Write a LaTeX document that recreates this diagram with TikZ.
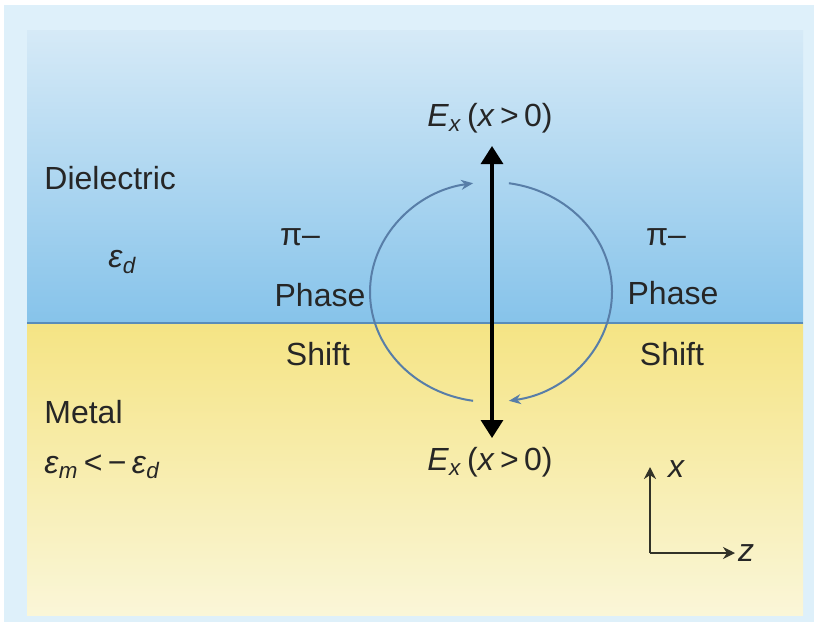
\documentclass[tikz,border=0pt]{standalone}
\usepackage{fontspec}
\setmainfont{Liberation Sans}
\usetikzlibrary{arrows.meta}
\definecolor{framebg}{RGB}{222,240,250}
\definecolor{dieltop}{RGB}{214,234,247}
\definecolor{dielbot}{RGB}{134,195,234}
\definecolor{metaltop}{RGB}{245,228,132}
\definecolor{metalbot}{RGB}{250,246,216}
\definecolor{loopblue}{RGB}{88,126,168}
\definecolor{edgeblue}{RGB}{90,140,185}
\definecolor{inkgray}{RGB}{38,38,38}
\definecolor{axisink}{RGB}{50,50,40}
\newcommand{\Efield}{\textit{E}\textsubscript{\textit{x}}\,(\textit{x}\,>\,0)}
\tikzset{
  lbl/.style={font=\fontsize{16}{19}\selectfont, text=inkgray, inner sep=1pt},
  field/.style={{Triangle[length=9pt,width=11pt]}-{Triangle[length=9pt,width=11pt]}, line width=1.6pt, black},
  loop/.style={-{Stealth[length=6pt,width=5pt]}, line width=1pt, loopblue},
  axis/.style={-{Stealth[length=6pt,width=6pt]}, line width=1.2pt, axisink}
}
\begin{document}
\begin{tikzpicture}[x=0.5pt,y=-0.5pt]
  \useasboundingbox (0,0) rectangle (818,628);
  \fill[white] (0,0) rectangle (818,628);
  % frame and the two media
  \fill[framebg] (4,5) rectangle (814,622);
  \shade[top color=dieltop, bottom color=dielbot] (27,30) rectangle (803,323);
  \shade[top color=metaltop, bottom color=metalbot] (27,323) rectangle (803,615);
  \draw[edgeblue, line width=0.7pt] (27,323) -- (803,323);

  % media labels
  \node[lbl, anchor=west] (diel) at (42,178) {Dielectric};
  \node[lbl, anchor=west] (epsd) at (106,262) {\textit{ε}\textsubscript{\textit{d}}};
  \node[lbl, anchor=west] (metal) at (42,412) {Metal};
  \node[lbl, anchor=west] (epsm) at (42,467) {\textit{ε}\textsubscript{\textit{m}}\,<\,−\,\textit{ε}\textsubscript{\textit{d}}};

  % phase shift labels
  \node[lbl] (lpi) at (300,237) {π–};
  \node[lbl] (lphase) at (320,295) {Phase};
  \node[lbl] (lshift) at (318,354) {Shift};
  \node[lbl] (rpi) at (666,237) {π–};
  \node[lbl] (rphase) at (673,293) {Phase};
  \node[lbl] (rshift) at (672,354) {Shift};

  % field arrow
  \node[lbl] (etop) at (490,118) {\Efield};
  \node[lbl] (ebot) at (490,462) {\Efield};
  \coordinate (ftop) at (492,146);
  \coordinate (fbot) at (492,438);
  \draw[field] (ftop) -- (fbot);

  % circulation
  \coordinate (c) at (491,292);
  \draw[loop] ([shift={(98.5:121 and 110)}]c) arc[start angle=98.5, end angle=261.5, x radius=121, y radius=110];
  \draw[loop] ([shift={(-81.5:121 and 110)}]c) arc[start angle=-81.5, end angle=81.5, x radius=121, y radius=110];

  % axes
  \coordinate (o) at (650,553);
  \coordinate (xtip) at (650,467);
  \coordinate (ztip) at (735,553);
  \draw[axis] (o) -- (xtip);
  \draw[axis] (o) -- (ztip);
  \node[lbl, font=\fontsize{16}{19}\selectfont\itshape] (xlbl) at (676,469) {x};
  \node[lbl, font=\fontsize{16}{19}\selectfont\itshape] (zlbl) at (746,553) {z};
\end{tikzpicture}
\end{document}
